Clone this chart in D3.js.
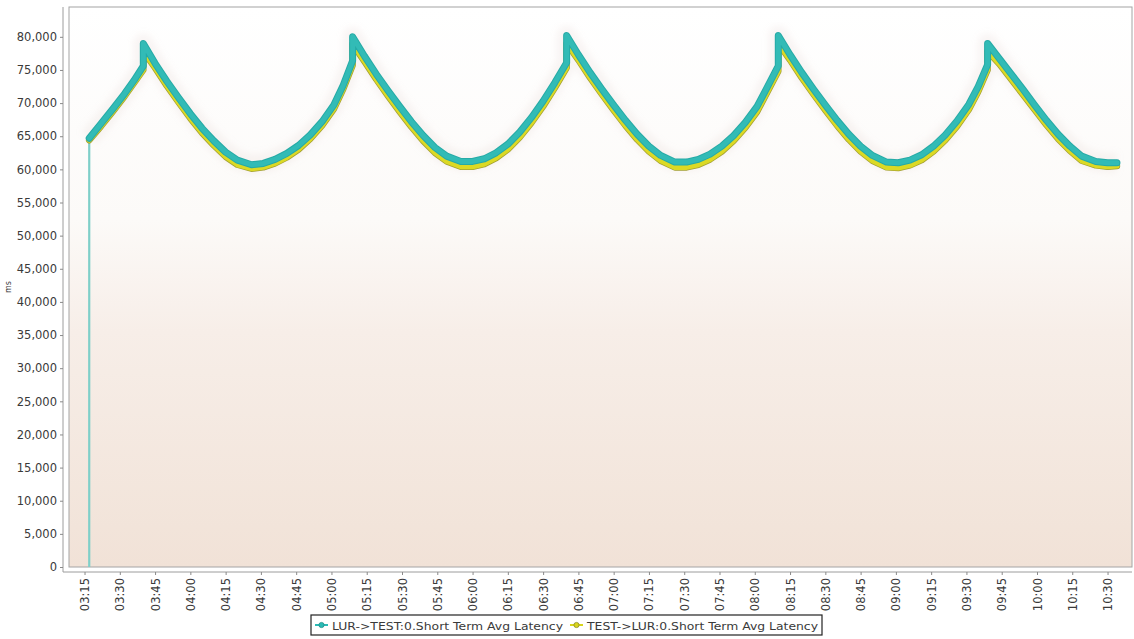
<!DOCTYPE html>
<html>
<head>
<meta charset="utf-8">
<script src="https://cdn.jsdelivr.net/npm/d3@7"></script>
<style>
  html, body { margin: 0; padding: 0; background: #ffffff; }
  svg { display: block; }
  text { font-family: "DejaVu Sans", Tahoma, sans-serif; fill: #3a3a3a; }
</style>
</head>
<body>
<svg id="chart" width="1134" height="639"></svg>
<script>
// Sample times shared by both latency series (HH:MM); repeated times mark the sudden jumps.
const times = [
  "03:17","03:22","03:27","03:32","03:36","03:40","03:40",
  "03:45","03:50","03:55","04:00","04:05","04:10","04:15","04:20","04:26",
  "04:31","04:36","04:41","04:46","04:51","04:56","05:01","05:05","05:09","05:09",
  "05:14","05:19","05:24","05:29","05:34","05:39","05:44","05:49","05:55",
  "06:00","06:05","06:10","06:15","06:20","06:25","06:30","06:35","06:40","06:40",
  "06:45","06:50","06:55","07:00","07:05","07:10","07:15","07:20","07:26",
  "07:31","07:36","07:41","07:46","07:51","07:56","08:01","08:05","08:10","08:10",
  "08:15","08:20","08:25","08:30","08:35","08:40","08:45","08:50","08:56",
  "09:01","09:06","09:11","09:16","09:21","09:26","09:31","09:35","09:39","09:39",
  "09:44","09:49","09:54","09:59","10:04","10:09","10:14","10:19","10:25","10:30","10:34"
];

// LUR->TEST short term average latency
const lurToTest = [
  64700, 66900, 69100, 71400, 73400, 75600, 79000,
  76000, 73300, 70800, 68400, 66200, 64300, 62600, 61400, 60700,
  60900, 61500, 62400, 63600, 65200, 67200, 69700, 72700, 76400, 80000,
  77100, 74400, 71900, 69500, 67200, 65100, 63300, 62000, 61200,
  61200, 61600, 62500, 63800, 65600, 67800, 70300, 73100, 76100, 80200,
  77300, 74600, 72100, 69700, 67400, 65300, 63500, 62100, 61100,
  61100, 61500, 62300, 63500, 65100, 67100, 69500, 72200, 75600, 80200,
  77300, 74600, 72100, 69700, 67400, 65300, 63500, 62100, 61100,
  61000, 61400, 62200, 63500, 65200, 67300, 69800, 72500, 75800, 79000,
  76700, 74400, 72100, 69700, 67400, 65300, 63500, 62000, 61200, 61000, 61000
];

// TEST->LUR short term average latency
const testToLur = [
  64400, 66500, 68700, 71000, 73000, 75000, 77800,
  75300, 72600, 70100, 67700, 65500, 63600, 61900, 60700, 60100,
  60300, 60900, 61800, 63000, 64600, 66600, 69100, 72100, 75700, 78900,
  76300, 73600, 71100, 68700, 66400, 64300, 62500, 61200, 60400,
  60400, 60800, 61700, 63000, 64800, 67000, 69500, 72300, 75300, 79000,
  76500, 73800, 71300, 68900, 66600, 64500, 62700, 61300, 60300,
  60300, 60700, 61500, 62700, 64300, 66300, 68700, 71400, 74800, 79000,
  76500, 73800, 71300, 68900, 66600, 64500, 62700, 61300, 60300,
  60200, 60600, 61400, 62700, 64400, 66500, 69000, 71700, 75000, 77800,
  75900, 73600, 71300, 69000, 66700, 64600, 62800, 61300, 60600, 60400, 60500
];

// The LUR->TEST series opens with a single zero reading before the first sample.
const startTimes = ["03:17", "03:17"];
const startValues = [0, 64700];

// Axis ticks
const yTicks = [0, 5000, 10000, 15000, 20000, 25000, 30000, 35000, 40000,
                45000, 50000, 55000, 60000, 65000, 70000, 75000, 80000];
const xTickLabels = ["03:15","03:30","03:45","04:00","04:15","04:30","04:45","05:00",
  "05:15","05:30","05:45","06:00","06:15","06:30","06:45","07:00","07:15","07:30",
  "07:45","08:00","08:15","08:30","08:45","09:00","09:15","09:30","09:45","10:00",
  "10:15","10:30"];

const seriesNames = ["LUR->TEST:0.Short Term Avg Latency", "TEST->LUR:0.Short Term Avg Latency"];
const yUnit = "ms";

// ---------------------------------------------------------------------------
const parse = d3.timeParse("%H:%M:%S");
const parseHM = s => parse(s.length === 5 ? s + ":00" : s);

const svg = d3.select("#chart");
const plot = { left: 69, right: 1132, top: 7, bottom: 567 };

const x = d3.scaleTime()
  .domain([parseHM("03:08:24"), parseHM("10:40:24")])
  .range([plot.left, plot.right]);
const y = d3.scaleLinear()
  .domain([0, 84500])
  .range([plot.bottom, plot.top]);

// Plot background: white at the top fading to a soft peach at the bottom
const defs = svg.append("defs");
const grad = defs.append("linearGradient")
  .attr("id", "bg").attr("x1", 0).attr("y1", 0).attr("x2", 0).attr("y2", 1);
grad.append("stop").attr("offset", "0%").attr("stop-color", "#ffffff");
grad.append("stop").attr("offset", "38%").attr("stop-color", "#fcfaf8");
grad.append("stop").attr("offset", "58%").attr("stop-color", "#f7eee8");
grad.append("stop").attr("offset", "100%").attr("stop-color", "#f1e2d7");

defs.append("clipPath").attr("id", "clip")
  .append("rect")
  .attr("x", plot.left).attr("y", plot.top)
  .attr("width", plot.right - plot.left).attr("height", plot.bottom - plot.top);

defs.append("filter").attr("id", "haze")
  .append("feGaussianBlur").attr("stdDeviation", 3);

svg.append("rect")
  .attr("x", plot.left).attr("y", plot.top)
  .attr("width", plot.right - plot.left).attr("height", plot.bottom - plot.top)
  .attr("fill", "url(#bg)")
  .attr("stroke", "#a4a4a4").attr("stroke-width", 1);

// Y axis, drawn a few pixels left of the plot frame
const yAxis = d3.axisLeft(y).tickValues(yTicks).tickSize(3).tickPadding(3)
  .tickFormat(d3.format(","));
const gy = svg.append("g").attr("transform", `translate(${plot.left - 6},0)`).call(yAxis);
gy.select(".domain").attr("stroke", "#9c9c9c").attr("d", `M0,${plot.top}V${plot.bottom + 5}`);
gy.selectAll(".tick line").attr("stroke", "#8a8a8a");
gy.selectAll(".tick text").style("font-size", "11.5px").attr("fill", "#333");

// X axis, drawn a few pixels below the plot frame
const xTicks = xTickLabels.map(parseHM);
const xAxis = d3.axisBottom(x).tickValues(xTicks).tickSize(3).tickPadding(3)
  .tickFormat(d3.timeFormat("%H:%M"));
const gx = svg.append("g").attr("transform", `translate(0,${plot.bottom + 5})`).call(xAxis);
gx.select(".domain").attr("stroke", "#9c9c9c").attr("d", `M${plot.left - 6},0H${plot.right}`);
gx.selectAll(".tick line").attr("stroke", "#8a8a8a");
gx.selectAll(".tick text")
  .style("font-size", "11.5px").attr("fill", "#333")
  .attr("text-anchor", "end")
  .attr("dx", "-6px").attr("dy", "0.35em")
  .attr("transform", "rotate(-90)")
  .attr("x", 0).attr("y", 0);

// Y unit label
svg.append("text")
  .attr("transform", "translate(11,287) rotate(-90)")
  .attr("text-anchor", "middle")
  .style("font-size", "8px").attr("fill", "#333")
  .text(yUnit);

// Series data
const teal = times.map((t, i) => ({ t: parseHM(t), v: lurToTest[i] }));
const yellow = times.map((t, i) => ({ t: parseHM(t), v: testToLur[i] }));
const start = startTimes.map((t, i) => ({ t: parseHM(t), v: startValues[i] }));

const line = d3.line().x(d => x(d.t)).y(d => y(d.v)).curve(d3.curveLinear);

const g = svg.append("g").attr("clip-path", "url(#clip)");

// faint speckle haze around the traces
g.append("path").datum(teal).attr("d", line)
  .attr("fill", "none").attr("stroke", "#dcc4c2").attr("stroke-width", 20)
  .attr("stroke-opacity", 0.16).attr("stroke-linejoin", "round")
  .attr("filter", "url(#haze)");

// thin opening drop from zero
g.append("path").datum(start).attr("d", line)
  .attr("fill", "none").attr("stroke", "#7fcfc9").attr("stroke-width", 2.2);

// TEST->LUR (yellow) underneath
g.append("path").datum(yellow).attr("d", line)
  .attr("fill", "none").attr("stroke", "#a3a032").attr("stroke-width", 6.5)
  .attr("stroke-linejoin", "round").attr("stroke-linecap", "round");
g.append("path").datum(yellow).attr("d", line)
  .attr("fill", "none").attr("stroke", "#dcd924").attr("stroke-width", 5)
  .attr("stroke-linejoin", "round").attr("stroke-linecap", "round");

// LUR->TEST (teal) on top
g.append("path").datum(teal).attr("d", line)
  .attr("fill", "none").attr("stroke", "#26aaa6").attr("stroke-width", 7)
  .attr("stroke-linejoin", "round").attr("stroke-linecap", "round");
g.append("path").datum(teal).attr("d", line)
  .attr("fill", "none").attr("stroke", "#32bbb6").attr("stroke-width", 5)
  .attr("stroke-linejoin", "round").attr("stroke-linecap", "round");

// Legend
const lg = svg.append("g").attr("transform", "translate(311,615)");
lg.append("rect").attr("x", 0).attr("y", 0).attr("width", 511).attr("height", 20)
  .attr("fill", "#ffffff").attr("stroke", "#222").attr("stroke-width", 1.2);

const legendItems = [
  { name: seriesNames[0], color: "#2bbab5", dark: "#1f8f8c", x: 4 },
  { name: seriesNames[1], color: "#d8d51e", dark: "#8c8a2a", x: 259 }
];
legendItems.forEach(it => {
  lg.append("line").attr("x1", it.x).attr("x2", it.x + 13).attr("y1", 10).attr("y2", 10)
    .attr("stroke", it.color).attr("stroke-width", 2);
  lg.append("circle").attr("cx", it.x + 6.5).attr("cy", 10).attr("r", 2.6)
    .attr("fill", it.color).attr("stroke", it.dark).attr("stroke-width", 0.8);
  lg.append("text").attr("x", it.x + 17).attr("y", 14.5)
    .style("font-size", "11px").attr("fill", "#222")
    .attr("textLength", 231).attr("lengthAdjust", "spacingAndGlyphs")
    .text(it.name);
});
</script>
</body>
</html>
